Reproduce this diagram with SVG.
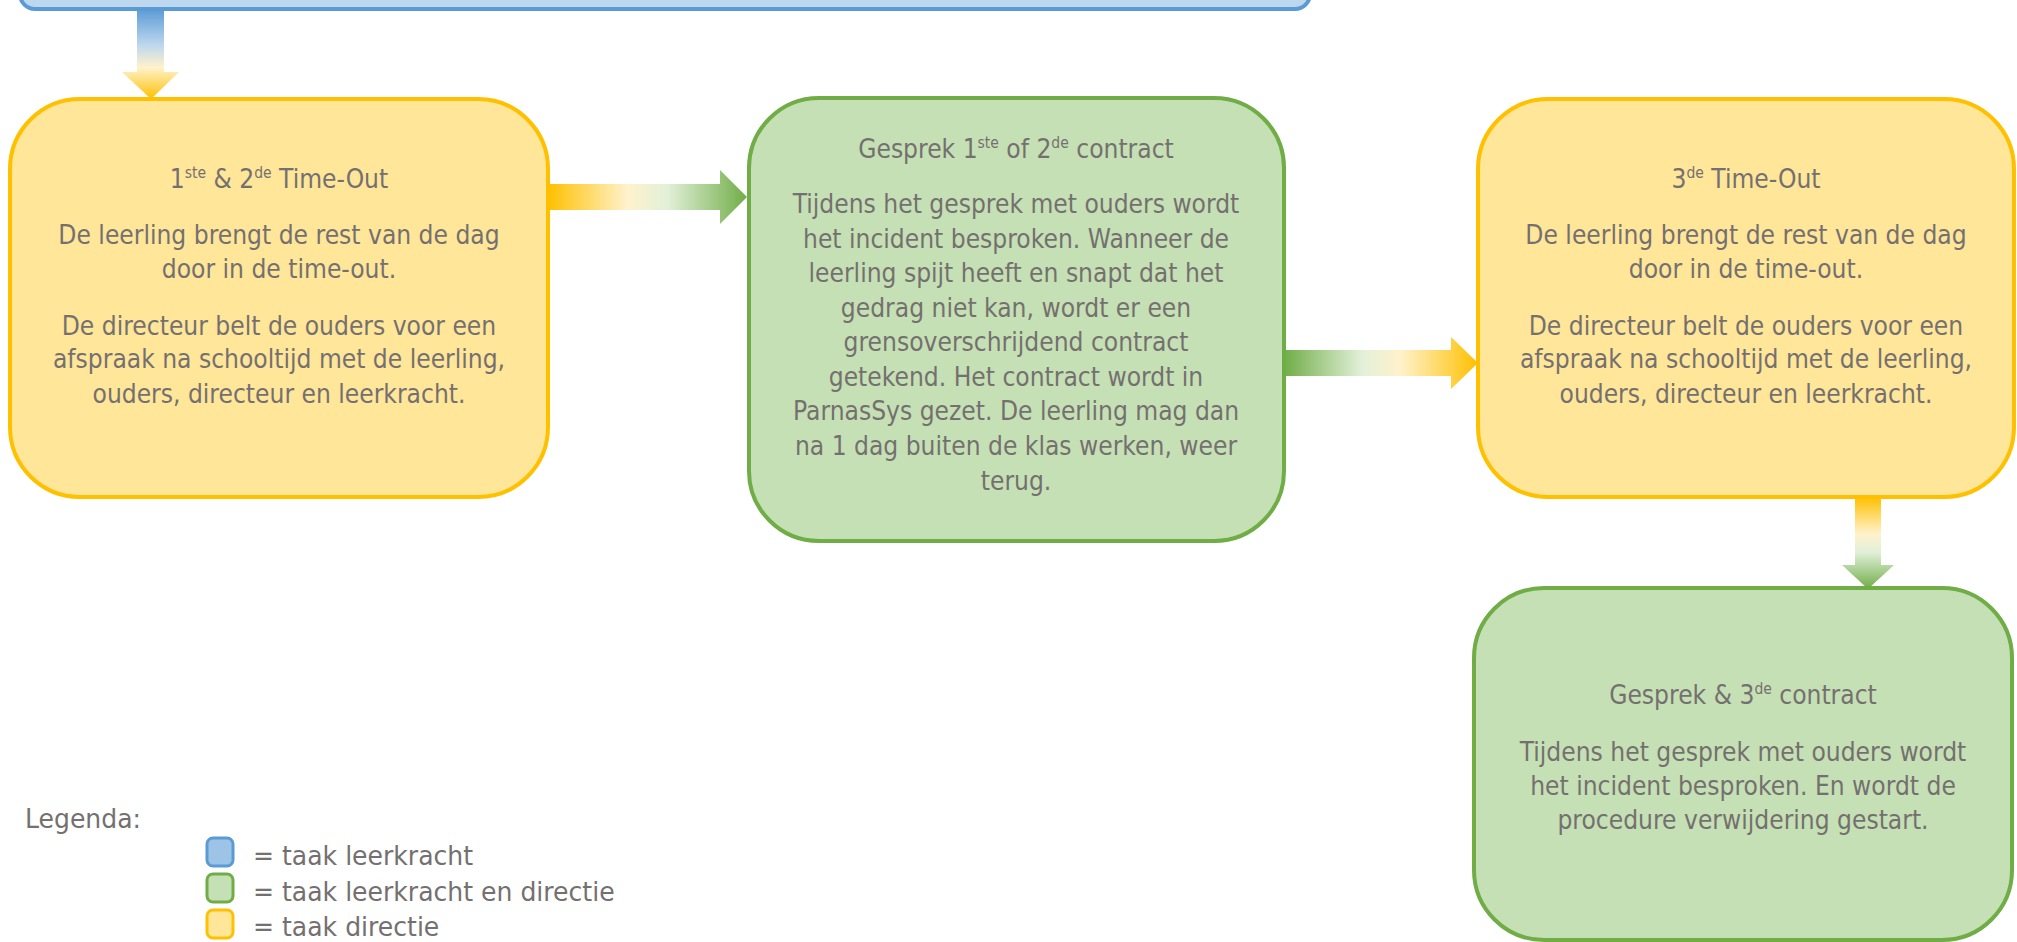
<svg xmlns="http://www.w3.org/2000/svg" width="2017" height="942" viewBox="0 0 2017 942">
<style>
.t{font-family:"DejaVu Sans","Liberation Sans",sans-serif;font-size:27px;fill:#757070;text-anchor:middle}
.lg{font-family:"DejaVu Sans","Liberation Sans",sans-serif;font-size:27px;fill:#757070}
.s{font-size:16px}
.yel{fill:#FFE699;stroke:#FFC000;stroke-width:4}
.grn{fill:#C5E0B4;stroke:#70AD47;stroke-width:4}
.blu{fill:#BDD7EE;stroke:#5B9BD5;stroke-width:4}
.sq{stroke-width:3}
</style>
<defs>
<linearGradient id="gBlue" x1="0" y1="0" x2="0" y2="1">
<stop offset="0" stop-color="#5B9BD5"/>
<stop offset="0.4" stop-color="#BDD7EE"/>
<stop offset="0.65" stop-color="#FFF2CC"/>
<stop offset="1" stop-color="#FFC000"/>
</linearGradient>
<linearGradient id="gYG" x1="0" y1="0" x2="1" y2="0">
<stop offset="0" stop-color="#FFC000"/>
<stop offset="0.4" stop-color="#FFF2CC"/>
<stop offset="0.6" stop-color="#E2F0D9"/>
<stop offset="1" stop-color="#70AD47"/>
</linearGradient>
<linearGradient id="gGY" x1="0" y1="0" x2="1" y2="0">
<stop offset="0" stop-color="#70AD47"/>
<stop offset="0.4" stop-color="#E2F0D9"/>
<stop offset="0.6" stop-color="#FFF2CC"/>
<stop offset="1" stop-color="#FFC000"/>
</linearGradient>
<linearGradient id="gYGv" x1="0" y1="0" x2="0" y2="1">
<stop offset="0" stop-color="#FFC000"/>
<stop offset="0.4" stop-color="#FFF2CC"/>
<stop offset="0.6" stop-color="#E2F0D9"/>
<stop offset="1" stop-color="#70AD47"/>
</linearGradient>
</defs>

<g id="connectors">
<polygon fill="url(#gBlue)" points="137,9 164,9 164,72 179,72 151,99 122,72 137,72"/>
<polygon fill="url(#gYG)" points="548,184 720,184 720,170 747,197 720,224 720,210 548,210"/>
<polygon fill="url(#gGY)" points="1284,350 1451,350 1451,337 1478,363 1451,389 1451,376 1284,376"/>
<polygon fill="url(#gYGv)" points="1855,497 1881,497 1881,565 1894,565 1868,589 1842,565 1855,565"/>
</g>

<g id="node-leerkracht">
<rect class="blu" x="20" y="-200" width="1290" height="209" rx="15"/>
</g>

<g id="node-timeout12">
<rect class="yel" x="10" y="99" width="538" height="398" rx="70"/>
<g transform="translate(279,0) scale(0.87,1)">
<text class="t" x="0" y="188">1<tspan class="s" dy="-10">ste</tspan><tspan dy="10"> &amp; 2</tspan><tspan class="s" dy="-10">de</tspan><tspan dy="10"> Time-Out</tspan></text>
<text class="t" x="0" y="244">De leerling brengt de rest van de dag</text>
<text class="t" x="0" y="278">door in de time-out.</text>
<text class="t" x="0" y="335">De directeur belt de ouders voor een</text>
<text class="t" x="0" y="368">afspraak na schooltijd met de leerling,</text>
<text class="t" x="0" y="403">ouders, directeur en leerkracht.</text>
</g>
</g>

<g id="node-gesprek12">
<rect class="grn" x="749" y="98" width="535" height="443" rx="70"/>
<g transform="translate(1016,0) scale(0.87,1)">
<text class="t" x="0" y="158">Gesprek 1<tspan class="s" dy="-10">ste</tspan><tspan dy="10"> of 2</tspan><tspan class="s" dy="-10">de</tspan><tspan dy="10"> contract</tspan></text>
<text class="t" x="0" y="213">Tijdens het gesprek met ouders wordt</text>
<text class="t" x="0" y="248">het incident besproken. Wanneer de</text>
<text class="t" x="0" y="282">leerling spijt heeft en snapt dat het</text>
<text class="t" x="0" y="317">gedrag niet kan, wordt er een</text>
<text class="t" x="0" y="351">grensoverschrijdend contract</text>
<text class="t" x="0" y="386">getekend. Het contract wordt in</text>
<text class="t" x="0" y="420">ParnasSys gezet. De leerling mag dan</text>
<text class="t" x="0" y="455">na 1 dag buiten de klas werken, weer</text>
<text class="t" x="0" y="490">terug.</text>
</g>
</g>

<g id="node-timeout3">
<rect class="yel" x="1478" y="99" width="536" height="398" rx="70"/>
<g transform="translate(1746,0) scale(0.87,1)">
<text class="t" x="0" y="188">3<tspan class="s" dy="-10">de</tspan><tspan dy="10"> Time-Out</tspan></text>
<text class="t" x="0" y="244">De leerling brengt de rest van de dag</text>
<text class="t" x="0" y="278">door in de time-out.</text>
<text class="t" x="0" y="335">De directeur belt de ouders voor een</text>
<text class="t" x="0" y="368">afspraak na schooltijd met de leerling,</text>
<text class="t" x="0" y="403">ouders, directeur en leerkracht.</text>
</g>
</g>

<g id="node-gesprek3">
<rect class="grn" x="1474" y="588" width="538" height="352" rx="70"/>
<g transform="translate(1743,0) scale(0.87,1)">
<text class="t" x="0" y="704">Gesprek &amp; 3<tspan class="s" dy="-10">de</tspan><tspan dy="10"> contract</tspan></text>
<text class="t" x="0" y="761">Tijdens het gesprek met ouders wordt</text>
<text class="t" x="0" y="795">het incident besproken. En wordt de</text>
<text class="t" x="0" y="829">procedure verwijdering gestart.</text>
</g>
</g>

<g id="legend">
<rect class="sq" x="207" y="838" width="26" height="28" rx="6" fill="#9DC3E6" stroke="#5B9BD5"/>
<rect class="sq" x="207" y="874" width="26" height="28" rx="6" fill="#C5E0B4" stroke="#70AD47"/>
<rect class="sq" x="207" y="910" width="26" height="28" rx="6" fill="#FFE699" stroke="#FFC000"/>
<g transform="translate(25,0) scale(0.93,1)">
<text class="lg" x="0" y="828">Legenda:</text>
</g>
<g transform="translate(253,0) scale(0.93,1)">
<text class="lg" x="0" y="865">= taak leerkracht</text>
<text class="lg" x="0" y="901">= taak leerkracht en directie</text>
<text class="lg" x="0" y="936">= taak directie</text>
</g>
</g>
</svg>
